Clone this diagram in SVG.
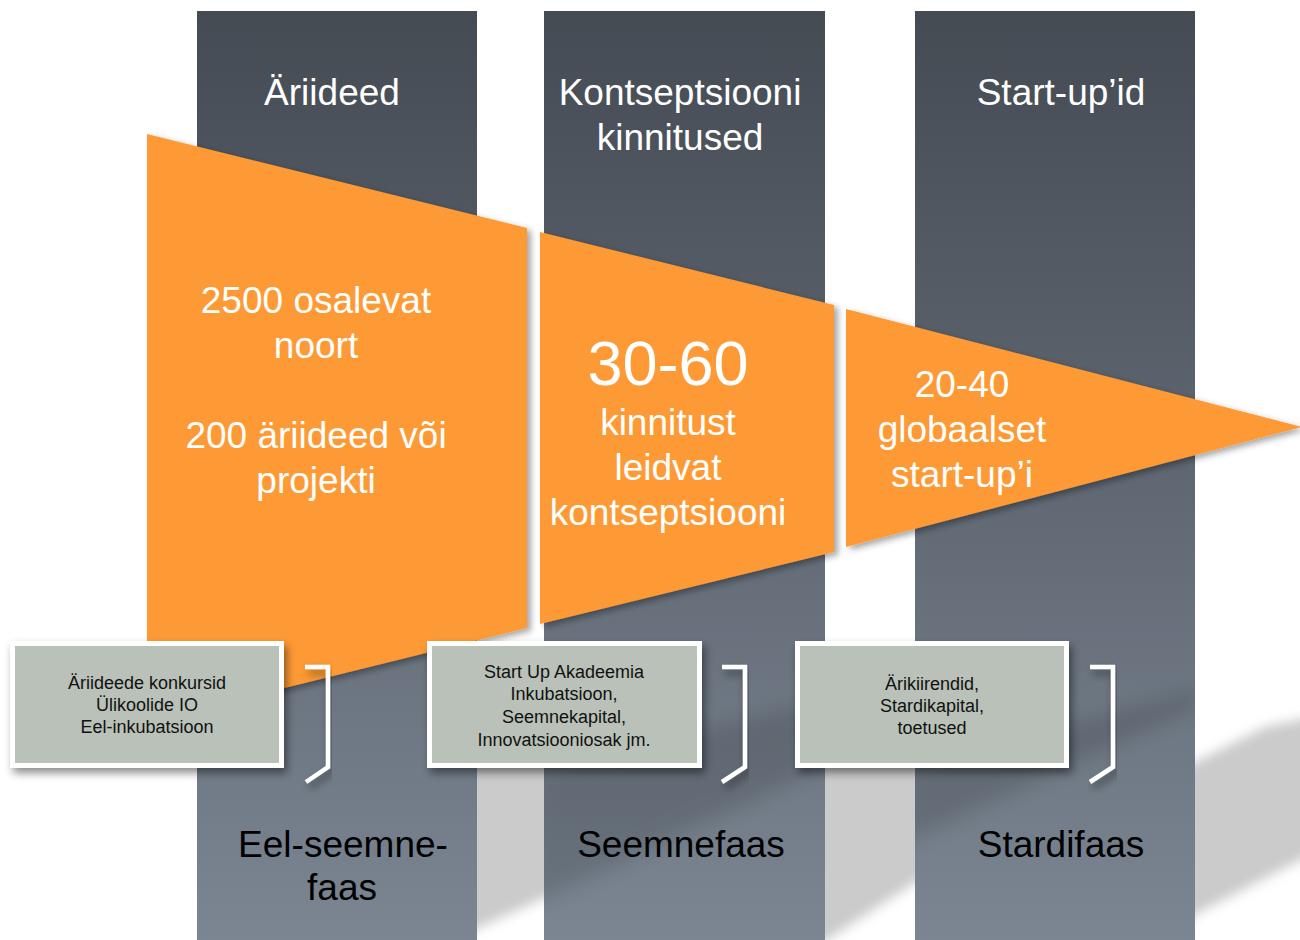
<svg xmlns="http://www.w3.org/2000/svg" width="1300" height="940" viewBox="0 0 1300 940">
  <defs>
    <linearGradient id="colGrad" gradientUnits="userSpaceOnUse" x1="0" y1="11" x2="0" y2="940">
      <stop offset="0" stop-color="#454b53"/>
      <stop offset="0.5" stop-color="#5f6772"/>
      <stop offset="1" stop-color="#7b8692"/>
    </linearGradient>
    <filter id="blur" x="-20%" y="-20%" width="140%" height="140%">
      <feGaussianBlur stdDeviation="6"/>
    </filter>
    <filter id="blurSoft" x="-20%" y="-20%" width="140%" height="140%">
      <feGaussianBlur stdDeviation="10"/>
    </filter>
    <filter id="segShadow" x="-10%" y="-10%" width="125%" height="125%">
      <feDropShadow dx="4" dy="3" stdDeviation="3" flood-color="#000" flood-opacity="0.35"/>
    </filter>
    <filter id="boxShadow" x="-10%" y="-10%" width="125%" height="140%">
      <feDropShadow dx="3" dy="5" stdDeviation="4" flood-color="#000" flood-opacity="0.45"/>
    </filter>
    <clipPath id="colClip">
      <rect x="197" y="11" width="280" height="929"/>
      <rect x="544" y="11" width="281" height="929"/>
      <rect x="915" y="11" width="280" height="929"/>
    </clipPath>
    <style>
      .col { fill: url(#colGrad); }
      .seg { fill: #fe9a34; filter: url(#segShadow); }
      .floor { fill: #cbcbcb; filter: url(#blur); }
      .head { font-family: "Liberation Sans", Arial, sans-serif; font-size: 37px; fill: #ffffff; text-anchor: middle; }
      .foot { font-family: "Liberation Sans", Arial, sans-serif; font-size: 37px; fill: #000000; text-anchor: middle; }
      .segtxt { font-family: "Liberation Sans", Arial, sans-serif; font-size: 37px; fill: #ffffff; text-anchor: middle; }
      .big { font-size: 63px; }
      .box { fill: #b9c1b9; stroke: #ffffff; stroke-width: 5; filter: url(#boxShadow); }
      .boxtxt { font-family: "Liberation Sans", Arial, sans-serif; font-size: 18px; fill: #111111; text-anchor: middle; }
      .bracket { fill: none; stroke: #ffffff; stroke-width: 4.5; stroke-linejoin: miter; filter: url(#boxShadow); }
    </style>
  </defs>

  <rect x="0" y="0" width="1300" height="940" fill="#ffffff"/>

  <!-- floor shadows behind columns -->
  <g id="floor-shadows">
    <polygon class="floor" points="420,765 585,700 585,880 478,928 420,960"/>
    <polygon class="floor" points="780,765 950,690 950,860 824,942 780,960"/>
    <polygon class="floor" points="1140,790 1265,727 1320,715 1320,850 1196,914 1140,960"/>
  </g>

  <!-- columns -->
  <g id="columns">
    <rect id="col1" class="col" x="197" y="11" width="280" height="929"/>
    <rect id="col2" class="col" x="544" y="11" width="281" height="929"/>
    <rect id="col3" class="col" x="915" y="11" width="280" height="929"/>
    <g clip-path="url(#colClip)">
      <polygon points="530,770 830,700 830,765 530,905" fill="#000" opacity="0.13" filter="url(#blurSoft)"/>
      <polygon points="900,770 1200,690 1200,705 900,845" fill="#000" opacity="0.13" filter="url(#blurSoft)"/>
    </g>
  </g>

  <!-- column headings -->
  <g id="headings">
    <text class="head" x="332" y="105">Äriideed</text>
    <text class="head" x="680" y="105">Kontseptsiooni</text>
    <text class="head" x="680" y="150">kinnitused</text>
    <text class="head" x="1061" y="105">Start-up’id</text>
  </g>

  <!-- funnel segments -->
  <g id="seg1">
    <polygon class="seg" points="147,134 527,228 527,628 147,722"/>
    <text class="segtxt" x="316" y="313">2500 osalevat</text>
    <text class="segtxt" x="316" y="358">noort</text>
    <text class="segtxt" x="316" y="448">200 äriideed või</text>
    <text class="segtxt" x="316" y="493">projekti</text>
  </g>
  <g id="seg2">
    <polygon class="seg" points="540,232 834,305 834,552 540,624"/>
    <text class="segtxt big" x="668" y="385">30-60</text>
    <text class="segtxt" x="668" y="435">kinnitust</text>
    <text class="segtxt" x="668" y="480">leidvat</text>
    <text class="segtxt" x="668" y="525">kontseptsiooni</text>
  </g>
  <g id="seg3">
    <polygon class="seg" points="846,309 1302,427 846,547"/>
    <text class="segtxt" x="962" y="397">20-40</text>
    <text class="segtxt" x="962" y="442">globaalset</text>
    <text class="segtxt" x="962" y="487">start-up’i</text>
  </g>

  <!-- brackets -->
  <g id="connectors">
    <polyline class="bracket" points="305,667 328,667 328,767 306,782"/>
    <polyline class="bracket" points="722,667 745,667 745,767 722,782"/>
    <polyline class="bracket" points="1090,667 1113,667 1113,767 1090,782"/>
  </g>

  <!-- boxes -->
  <g id="box1">
    <rect class="box" x="12.5" y="643.5" width="269" height="122"/>
    <text class="boxtxt" x="147" y="689">Äriideede konkursid</text>
    <text class="boxtxt" x="147" y="711">Ülikoolide IO</text>
    <text class="boxtxt" x="147" y="733">Eel-inkubatsioon</text>
  </g>
  <g id="box2">
    <rect class="box" x="429.5" y="643.5" width="270" height="122"/>
    <text class="boxtxt" x="564" y="678">Start Up Akadeemia</text>
    <text class="boxtxt" x="564" y="700">Inkubatsioon,</text>
    <text class="boxtxt" x="564" y="723">Seemnekapital,</text>
    <text class="boxtxt" x="564" y="746">Innovatsiooniosak jm.</text>
  </g>
  <g id="box3">
    <rect class="box" x="797.5" y="643.5" width="269" height="122"/>
    <text class="boxtxt" x="932" y="690">Ärikiirendid,</text>
    <text class="boxtxt" x="932" y="712">Stardikapital,</text>
    <text class="boxtxt" x="932" y="734">toetused</text>
  </g>

  <!-- phase labels -->
  <g id="phases">
    <text class="foot" x="343" y="857">Eel-seemne-</text>
    <text class="foot" x="342" y="900">faas</text>
    <text class="foot" x="681" y="857">Seemnefaas</text>
    <text class="foot" x="1061" y="857">Stardifaas</text>
  </g>
</svg>
